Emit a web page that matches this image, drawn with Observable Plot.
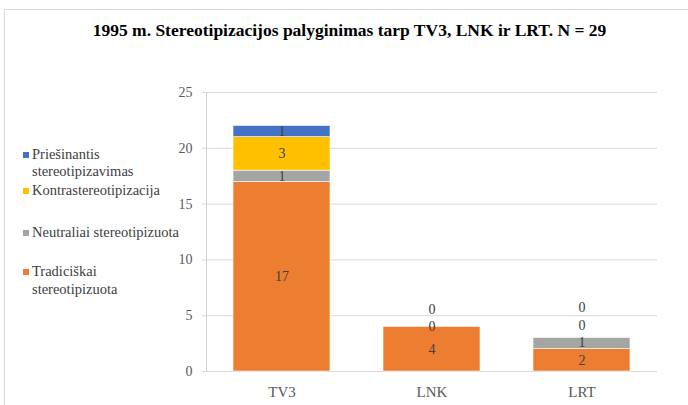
<!DOCTYPE html>
<html>
<head>
<meta charset="utf-8">
<script src="https://cdn.jsdelivr.net/npm/d3@7"></script>
<script src="https://cdn.jsdelivr.net/npm/@observablehq/plot@0.6"></script>
<style>
  html, body { margin: 0; padding: 0; background: #fff; }
  #wrap { position: relative; width: 688px; height: 405px; overflow: hidden; font-family: "Liberation Serif", "Times New Roman", serif; }
  #border { position: absolute; left: 4px; top: 9px; width: 720px; height: 420px; border: 1px solid #d9d9d9; box-sizing: border-box; }
  #title { position: absolute; left: 0; top: 20px; width: 699px; text-align: center; font-weight: bold; font-size: 17.5px; line-height: 20px; color: #000; }
  .item { position: absolute; left: 23px; font-size: 14.5px; line-height: 17.4px; color: #404040; white-space: pre-line; }
  .sw { position: absolute; left: 0; top: 6px; width: 6px; height: 6px; }
  .lt { margin-left: 9px; }
  #chart { position: absolute; left: 0; top: 0; }
</style>
</head>
<body>
<div id="wrap">
  <div id="border"></div>
  <div id="title"></div>
  <div id="legend"></div>
  <div id="chart"></div>
</div>
<script>
const titleText = "1995 m. Stereotipizacijos palyginimas tarp TV3, LNK ir LRT. N = 29";
const categories = ["TV3", "LNK", "LRT"];
const series = ["Tradiciškai stereotipizuota", "Neutraliai stereotipizuota", "Kontrastereotipizacija", "Priešinantis stereotipizavimas"];
const tradiciskai = [17, 4, 2];
const neutraliai = [1, 0, 1];
const kontra = [3, 0, 0];
const priesinantis = [1, null, 0];
const colors = ["#ED7D31", "#A5A5A5", "#FFC000", "#4472C4"];
const yTicks = [0, 5, 10, 15, 20, 25];
// legend (top to bottom), with the line breaks of the original
const legendOrder = [3, 2, 1, 0];
const legendLabels = ["Priešinantis\nstereotipizavimas", "Kontrastereotipizacija", "Neutraliai stereotipizuota", "Tradiciškai\nstereotipizuota"];
const legendTops = [146, 181.6, 224, 263.3];

document.getElementById("title").textContent = titleText;

const legend = document.getElementById("legend");
legendOrder.forEach((si, i) => {
  const it = document.createElement("div");
  it.className = "item";
  it.style.top = legendTops[i] + "px";
  const sw = document.createElement("div");
  sw.className = "sw";
  sw.style.background = colors[si];
  const t = document.createElement("div");
  t.className = "lt";
  t.textContent = legendLabels[i];
  it.appendChild(sw);
  it.appendChild(t);
  legend.appendChild(it);
});

const seriesValues = [tradiciskai, neutraliai, kontra, priesinantis];
const rows = [];
categories.forEach((c, ci) => {
  seriesValues.forEach((vals, si) => {
    if (vals[ci] != null) rows.push({cat: c, series: series[si], value: vals[ci]});
  });
});

// label positions: segment centres, pushed up to avoid overlapping
const H = 405, mT = 92, mB = 34;
const unitPx = (H - mT - mB) / 25;
const minGap = 17.5 / unitPx;
const labels = [];
categories.forEach((c, ci) => {
  let cum = 0, prev = -Infinity;
  seriesValues.forEach((vals, si) => {
    const v = vals[ci];
    if (v == null) return;
    let y = cum + v / 2;
    if (y < prev + minGap) y = prev + minGap;
    labels.push({cat: c, y, text: String(v)});
    prev = y;
    cum += v;
  });
});

const chart = Plot.plot({
  width: 688,
  height: H,
  marginLeft: 206,
  marginRight: 31,
  marginTop: mT,
  marginBottom: mB,
  style: {fontFamily: "'Liberation Serif', 'Times New Roman', serif", fontSize: "14px", background: "transparent", overflow: "visible"},
  x: {domain: categories, paddingInner: 0.355, paddingOuter: 0.1775, label: null},
  y: {domain: [0, 25], label: null},
  color: {domain: series, range: colors},
  marks: [
    Plot.ruleY(yTicks, {stroke: "#d9d9d9", strokeWidth: 1}),
    Plot.frame({anchor: "left", stroke: "#d0d0d0"}),
    Plot.axisY({ticks: yTicks, tickSize: 4, tickPadding: 10, stroke: "#d9d9d9", fill: "#595959", label: null, fontSize: 14}),
    Plot.barY(rows, {x: "cat", y: "value", fill: "series", stroke: "white", strokeWidth: 0.6}),
    Plot.text(labels, {x: "cat", y: "y", text: "text", fill: "#404040", fontSize: 14}),
    Plot.axisX({tickSize: 0, tickPadding: 15, fill: "#595959", label: null, fontSize: 15})
  ]
});
document.getElementById("chart").appendChild(chart);
</script>
</body>
</html>
